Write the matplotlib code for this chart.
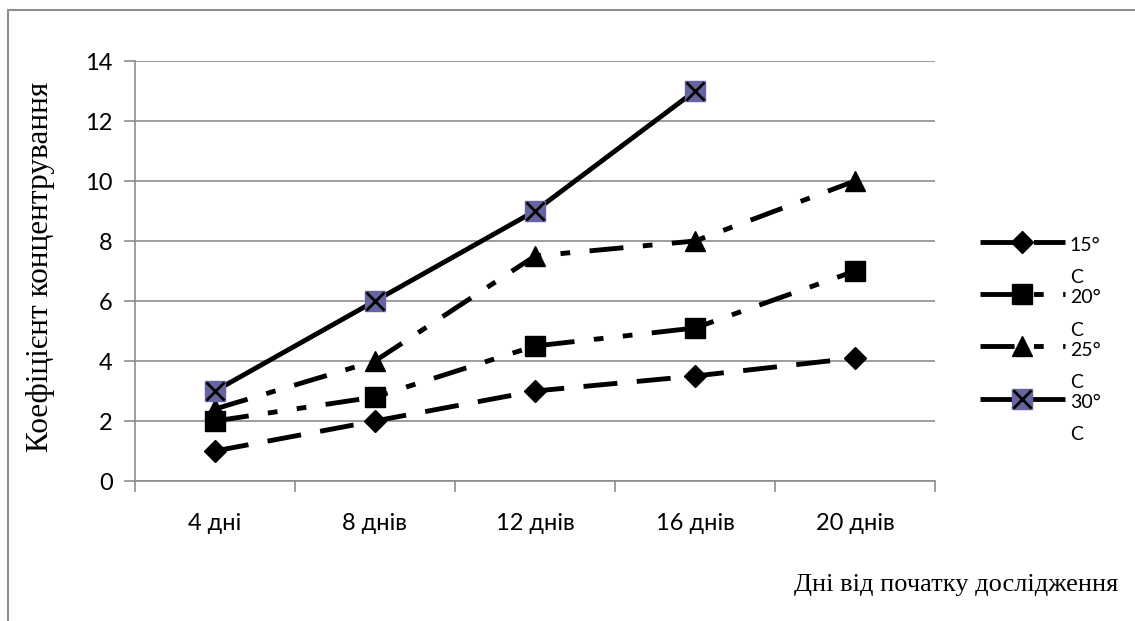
import matplotlib
matplotlib.use("Agg")
import matplotlib.pyplot as plt
from matplotlib.patches import Rectangle
from matplotlib.legend_handler import HandlerTuple

# data
days = ['4 дні', '8 днів', '12 днів', '16 днів', '20 днів']
t15 = [1.0, 2.0, 3.0, 3.5, 4.1]
t20 = [2.0, 2.8, 4.5, 5.1, 7.0]
t25 = [2.4, 4.0, 7.5, 8.0, 10.0]
t30 = [3.0, 6.0, 9.0, 13.0]
labels = ['15°\nC', '20°\nC', '25°\nC', '30°\nC']

plt.rcParams['font.family'] = ['Lato', 'DejaVu Sans']

fig = plt.figure(figsize=(11.35, 6.21), dpi=100)
ax = fig.add_axes([135 / 1135, 1 - 481 / 621, 800 / 1135, 420 / 621])

x = list(range(len(days)))
lw = 3.5
l15, = ax.plot(x, t15, color='black', lw=lw, dashes=(7, 4),
               marker='D', ms=11, label=labels[0])
l20, = ax.plot(x, t20, color='black', lw=lw, dashes=(7, 4, 2, 4, 2, 4),
               marker='s', ms=14, label=labels[1])
l25, = ax.plot(x, t25, color='black', lw=lw, dashes=(7, 4, 2, 4),
               marker='^', ms=15, label=labels[2])
l30, = ax.plot(x[:len(t30)], t30, color='black', lw=lw, solid_capstyle='butt',
               marker='s', ms=15, mfc='#6565a0', mec='#6565a0', label=labels[3])
x30, = ax.plot(x[:len(t30)], t30, ls='none', marker='x', ms=13, mew=2, color='black')

ax.set_xlim(-0.5, 4.5)
ax.set_ylim(0, 14)
ax.set_yticks(range(0, 15, 2))
ax.set_xticks(x)
ax.set_xticklabels(days)
ax.set_xticks([i - 0.5 for i in range(len(days) + 1)], minor=True)
ax.tick_params(axis='x', which='major', length=0, pad=23, labelsize=17)
ax.tick_params(axis='x', which='minor', length=8, color='#8c8c8c', width=1.2)
ax.tick_params(axis='y', length=8, color='#8c8c8c', width=1.2, labelsize=17, pad=8)
ax.grid(axis='y', color='#8c8c8c', lw=1.2)
ax.set_axisbelow(True)
for s in ['top', 'right']:
    ax.spines[s].set_visible(False)
for s in ['left', 'bottom']:
    ax.spines[s].set_color('#8c8c8c')
    ax.spines[s].set_linewidth(1.2)

ax.set_ylabel('Коефіцієнт концентрування', family='Liberation Serif', fontsize=22.5)
ax.yaxis.set_label_coords(-0.10, 0.51)
fig.text(1118 / 1135, 1 - 585 / 621, 'Дні від початку дослідження',
         family='Liberation Serif', fontsize=19, ha='right', va='center')

leg = ax.legend([l15, l20, l25, (l30, x30)], labels,
                handler_map={tuple: HandlerTuple(ndivide=1, pad=0)},
                loc='center left', bbox_to_anchor=(1.0435, 0.383), frameon=False,
                fontsize=14, handlelength=4.4, handletextpad=0.25,
                labelspacing=0.15, borderpad=0)
for t in leg.get_texts():
    t.set_linespacing(2.1)
    t.set_position((0, -20))

fig.patches.append(Rectangle((8 / 1135, -0.1), 1.2, 1 - 10 / 621 + 0.1,
                             transform=fig.transFigure, fill=False,
                             ec='#8c8c8c', lw=1.5))

fig.savefig('out.png', dpi=100)
